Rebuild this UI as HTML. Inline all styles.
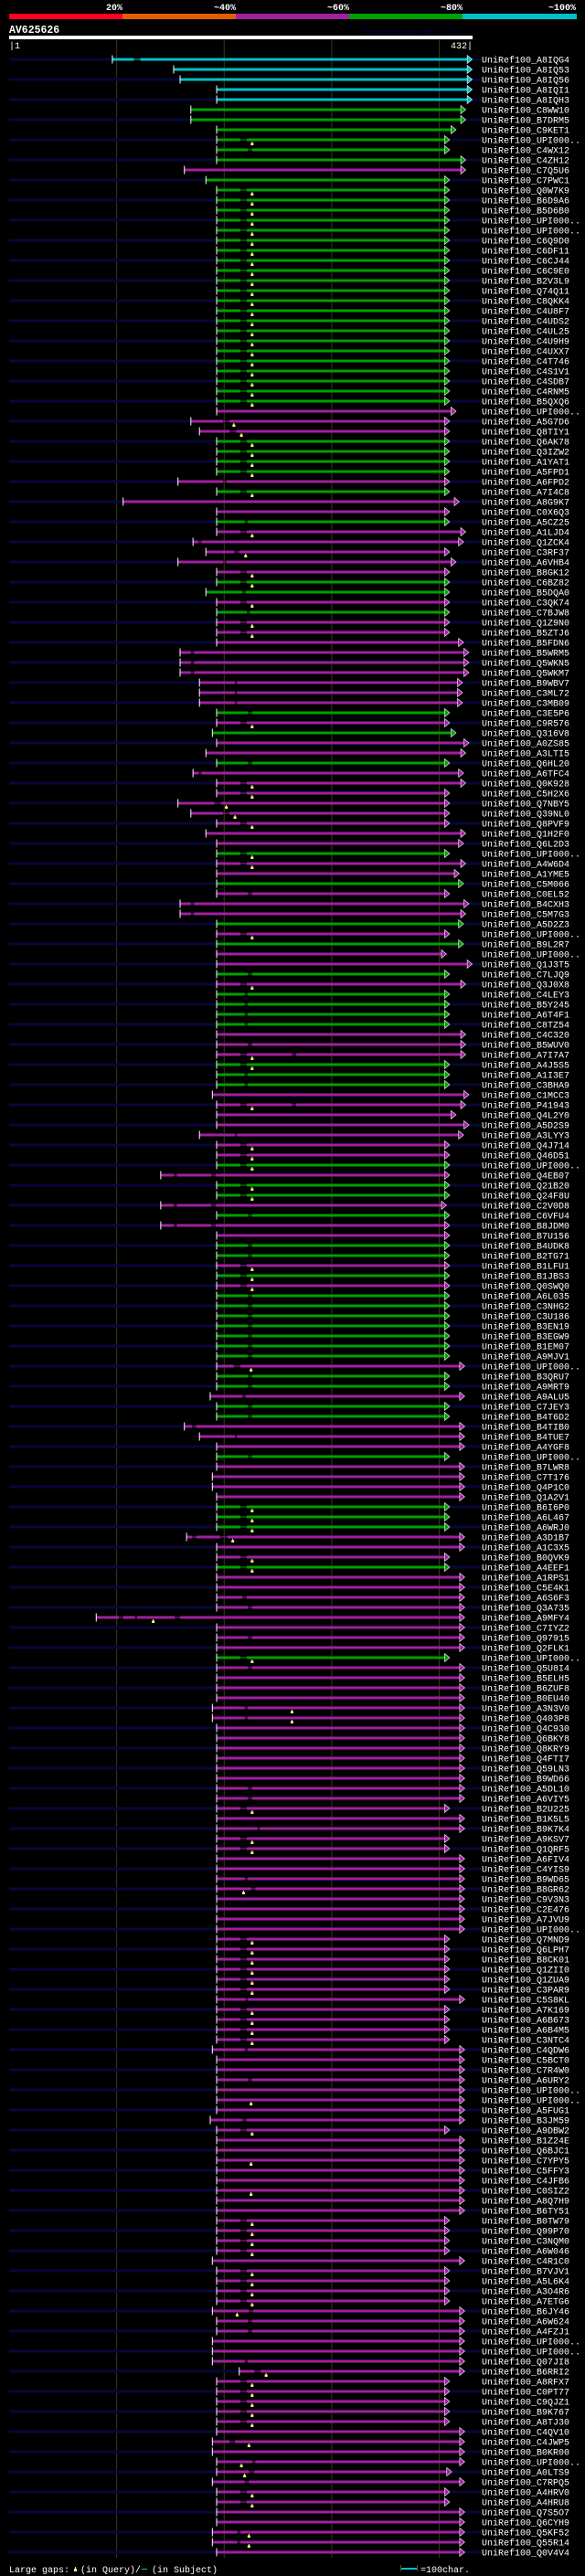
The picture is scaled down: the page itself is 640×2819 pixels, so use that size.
<!DOCTYPE html>
<html><head><meta charset="utf-8"><title>AlignView AV625626</title>
<style>
html,body{margin:0;padding:0;background:#000;}
svg{display:block;}
text{font-family:"Liberation Mono","DejaVu Sans Mono",monospace;}
</style></head>
<body>
<svg id="chart" xmlns="http://www.w3.org/2000/svg" width="640" height="2819" viewBox="0 0 640 2819">
<rect x="0" y="0" width="640" height="2819" fill="#000"/>
<g>
<rect x="10" y="15" width="124" height="6" fill="#ff0020"/>
<rect x="134" y="15" width="124" height="6" fill="#e06000"/>
<rect x="258" y="15" width="124" height="6" fill="#a020a0"/>
<rect x="382" y="15" width="124" height="6" fill="#00a000"/>
<rect x="506" y="15" width="125" height="6" fill="#00c0c8"/>
<text x="134" y="11" fill="#fff" font-size="10" font-weight="bold" text-anchor="end">20%</text>
<text x="258" y="11" fill="#fff" font-size="10" font-weight="bold" text-anchor="end">~40%</text>
<text x="382" y="11" fill="#fff" font-size="10" font-weight="bold" text-anchor="end">~60%</text>
<text x="506" y="11" fill="#fff" font-size="10" font-weight="bold" text-anchor="end">~80%</text>
<text x="630" y="11" fill="#fff" font-size="10" font-weight="bold" text-anchor="end">~100%</text>
</g>
<text x="10" y="36" fill="#fff" font-size="11.5" font-weight="bold">AV625626</text>
<text x="517" y="37" fill="#000048" font-size="9" text-anchor="end">AlignView.pm Beta rel.7</text>
<rect x="10" y="39" width="507" height="4" fill="#fff"/>
<text x="10" y="53" fill="#fff" font-size="10">|1</text>
<text x="517" y="53" fill="#fff" font-size="10" text-anchor="end">432|</text>
<g id="grid"></g>
<g id="rows"></g>
<g>
<text x="10" y="2815" fill="#fff" font-size="10">Large gaps:</text>
<rect x="82" y="2809" width="1" height="3" fill="#ffff80"/>
<rect x="81" y="2811" width="3" height="3" fill="#ffff80"/>
<text x="88" y="2815" fill="#fff" font-size="10">(in Query)/</text>
<rect x="155" y="2811" width="6" height="1" fill="#00c0c8"/>
<text x="166" y="2815" fill="#fff" font-size="10">(in Subject)</text>
<rect x="438" y="2807" width="1" height="7" fill="#555520"/>
<rect x="439" y="2810" width="17" height="2" fill="#00c0c8"/>
<rect x="456" y="2807" width="1" height="7" fill="#555520"/>
<text x="460" y="2815" fill="#fff" font-size="10">=100char.</text>
</g>
</svg>
<script>
// ---- data ----
const queryLength = 432;
const gridTicks = [100, 200, 300, 400];
const Y = [[216,222]], N = [[223,227]], S = [[220,223]], Y2 = [[216,222],[264,268]];
const rowColors = [
'c','c','c','c','c','g','g','g','g','g','g','m','g','g','g','g','g','g','g','g','g','g','g','g','g','g','g','g','g','g','g','g','g','g','g','m',
'm','m','g','g','g','g','m','g','m','m','g','m','m','m','m','m','g','g','m','g','m','m','m','m','m','m','m','m','m','g','m','g','m','m','g','m',
'm','m','m','m','m','m','m','g','m','m','g','m','m','m','g','m','g','m','m','g','m','g','g','g','g','m','m','m','g','g','g','m','m','m','m','m',
'm','m','g','m','g','g','m','g','m','m','g','g','m','g','m','g','g','g','g','g','g','g','m','g','g','m','g','g','m','m','m','g','m','m','m','m',
'g','g','g','m','m','m','g','m','m','m','m','m','m','m','m','g','m','m','m','m','m','m','m','m','m','m','m','m','m','m','m','m','m','m','m','m',
'm','m','m','m','m','m','m','m','m','m','m','m','m','m','m','m','m','m','m','m','m','m','m','m','m','m','m','m','m','m','m','m','m','m','m','m',
'm','m','m','m','m','m','m','m','m','m','m','m','m','m','m','m','m','m','m','m','m','m','m','m','m','m','m','m','m','m','m','m','m'];
const rowStarts = [
97,154,160,194,194,170,170,194,194,194,194,164,184,194,194,194,194,194,194,194,194,194,194,194,194,194,194,194,194,194,194,194,194,194,194,194,
170,178,194,194,194,194,158,194,107,194,194,194,172,184,158,194,194,184,194,194,194,194,194,160,160,160,178,178,178,194,194,190,194,184,194,172,
194,194,158,170,194,184,194,194,194,194,194,194,160,160,194,194,194,194,194,194,194,194,194,194,194,194,194,194,194,194,194,190,194,194,194,178,
194,194,194,142,194,194,142,194,142,194,194,194,194,194,194,194,194,194,194,194,194,194,194,194,194,188,194,194,164,178,194,194,194,190,190,194,
194,194,194,166,194,194,194,194,194,194,194,82,194,194,194,194,194,194,194,194,190,190,194,194,194,194,194,194,194,194,194,194,194,194,194,194,
194,194,194,194,194,194,194,194,194,194,194,194,194,194,194,194,194,194,190,194,194,194,194,194,194,188,194,194,194,194,194,194,194,194,194,194,
194,194,194,190,194,194,194,194,190,194,194,190,190,190,215,194,194,194,194,194,194,190,190,194,194,190,194,194,194,194,190,190,194];
const rowEnds = [
427,427,427,427,427,421,421,412,406,406,421,421,406,406,406,406,406,406,406,406,406,406,406,406,406,406,406,406,406,406,406,406,406,406,406,412,
406,406,406,406,406,406,406,406,415,406,406,421,419,406,412,406,406,406,406,406,406,406,419,424,424,424,418,418,418,406,406,412,424,421,406,419,
421,406,406,406,406,421,419,406,421,415,419,406,424,421,419,406,419,403,427,406,421,406,406,406,406,421,421,421,406,406,406,424,421,412,424,419,
406,406,406,406,406,406,403,406,406,406,406,406,406,406,406,406,406,406,406,406,406,406,420,406,406,420,406,406,420,420,420,406,420,420,420,420,
406,406,406,420,420,406,406,420,420,420,420,420,420,420,420,406,420,420,420,420,420,420,420,420,420,420,420,420,420,420,406,420,420,406,406,420,
420,420,420,420,420,420,420,406,406,406,406,406,406,420,406,406,406,406,420,420,420,420,420,420,420,420,406,420,420,420,420,420,420,420,420,406,
406,406,406,420,406,406,406,406,420,420,420,420,420,420,420,406,406,406,406,406,420,420,420,420,408,420,406,406,420,420,420,420,420];
const rowGaps = [
[[117,123]],[],[],[],[],[],[],[],Y,N,[],[],[],Y,Y,Y,Y,Y,Y,Y,Y,Y,Y,Y,Y,Y,Y,Y,Y,Y,Y,Y,Y,Y,Y,[],
[[200,206]],[[206,212]],Y,Y,Y,Y,[[200,203]],Y,[],[],S,Y,[[177,180]],[[210,215]],[[200,203]],Y,Y,[[218,221]],Y,[[222,225]],Y,Y,[],[[170,173]],[[170,173]],[[170,173]],[[211,213]],[[211,213]],[[211,213]],N,Y,[],[],[],N,[[177,180]],
Y,Y,[[192,198]],[[200,206]],Y,[],[],Y,Y,[],[],N,[[170,173]],[[170,173]],[],Y,[],[],[],N,Y,S,S,S,S,[],N,Y2,Y,S,S,[],Y2,[],[],[[211,213]],
Y,Y,Y,[[154,157],[189,193]],Y,Y,[[154,157],[189,193]],N,[[154,157],[189,193]],[],N,N,Y,Y,Y,N,N,N,N,N,N,N,[[210,216]],N,N,[[218,221]],N,N,[[171,175]],[[211,213]],[],N,[],[],[],[],
Y,Y,Y,[[171,175],[197,204]],[],Y,Y,[],[],[[218,222]],N,[[103,107],[118,120],[155,160]],[],N,[],Y,N,[],[],[],[[220,223]],[[220,223]],[],[],[],[],[],[],N,N,Y,[],[[232,234]],Y,Y,[],
[],S,[[226,230]],[],[],[],[],Y,Y,Y,Y,Y,Y,[[221,223]],Y,Y,Y,Y,S,[],[],N,[],[],[],[[218,222]],Y,[],[],[],[],[],[],[],[],Y,
Y,Y,Y,[],Y,Y,Y,Y,[[224,228]],N,N,[],[],S,[[229,235]],Y,Y,Y,Y,Y,[],[[206,211]],[],[[227,230]],[[224,229]],[[220,224]],Y,Y,[],[],[[213,216]],[[213,216]],[]];
const rowMarks = [
[],[],[],[],[],[],[],[],[227],[],[],[],[],[227],[227],[227],[227],[227],[227],[227],[227],[227],[227],[227],[227],[227],[227],[227],[227],[227],[227],[227],[227],[227],[227],[],
[210],[217],[227],[227],[227],[227],[],[227],[],[],[],[227],[],[221],[],[227],[227],[],[227],[],[227],[227],[],[],[],[],[],[],[],[],[227],[],[],[],[],[],
[227],[227],[203],[211],[227],[],[],[227],[227],[],[],[],[],[],[],[227],[],[],[],[],[227],[],[],[],[],[],[],[227],[227],[],[],[],[227],[],[],[],
[227],[227],[227],[],[227],[227],[],[],[],[],[],[],[227],[227],[227],[],[],[],[],[],[],[],[226],[],[],[],[],[],[],[],[],[],[],[],[],[],
[227],[227],[227],[209],[],[227],[227],[],[],[],[],[135],[],[],[],[227],[],[],[],[],[264],[264],[],[],[],[],[],[],[],[],[227],[],[],[227],[227],[],
[],[],[219],[],[],[],[],[227],[227],[227],[227],[227],[227],[],[227],[227],[227],[227],[],[],[],[],[],[226],[],[],[227],[],[],[226],[],[],[226],[],[],[227],
[227],[227],[227],[],[227],[227],[227],[227],[213],[],[],[],[],[],[240],[227],[227],[227],[227],[227],[],[224],[],[217],[220],[],[227],[227],[],[],[224],[224],[]];
const rowLabels = ["A8IQG4","A8IQ53","A8IQ56","A8IQI1","A8IQH3","C8WW10","B7DRM5","C9KET1","UPI000..","C4WX12","C4ZH12","C7Q5U6","C7PWC1","Q0W7K9","B6D9A6","B5D6B0","UPI000..","UPI000..","C6Q9D0","C6DF11","C6CJ44","C6C9E0","B2V3L9","Q74Q11","C8QKK4","C4U8F7","C4UDS2","C4UL25","C4U9H9","C4UXX7","C4T746","C4S1V1","C4SDB7","C4RNM5","B5QXQ6","UPI000..","A5G7D6","Q8TIY1","Q6AK78","Q3IZW2","A1YAT1","A5FPD1","A6FPD2","A7I4C8","A8G9K7","C0X6Q3","A5CZ25","A1LJD4","Q1ZCK4","C3RF37","A6VHB4","B8GK12","C6BZ82","B5DQA0","C3QK74","C7BJW8","Q1Z9N0","B5ZTJ6","B5FDN6","B5WRM5","Q5WKN5","Q5WKM7","B9WBV7","C3ML72","C3MB09","C3E5P6","C9R576","Q316V8","A0ZS85","A3LTI5","Q6HL20","A6TFC4","Q0K928","C5H2X6","Q7NBY5","Q39NL0","Q8PVF9","Q1H2F0","Q6L2D3","UPI000..","A4W6D4","A1YME5","C5M066","C0EL52","B4CXH3","C5M7G3","A5D2Z3","UPI000..","B9L2R7","UPI000..","Q1J3T5","C7LJQ9","Q3J0X8","C4LEY3","B5Y245","A6T4F1","C8TZ54","C4C320","B5WUV0","A7I7A7","A4J5S5","A1I3E7","C3BHA9","C1MCC3","P41943","Q4L2Y0","A5D2S9","A3LYY3","Q4J714","Q46D51","UPI000..","Q4EB07","Q21B20","Q24F8U","C2V0D8","C6VFU4","B8JDM0","B7U156","B4UDK8","B2TG71","B1LFU1","B1JBS3","Q0SWQ0","A6L035","C3NHG2","C3U186","B3EN19","B3EGW9","B1EM07","A9MJV1","UPI000..","B3QRU7","A9MRT9","A9ALU5","C7JEY3","B4T6D2","B4TIB0","B4TUE7","A4YGF8","UPI000..","B7LWR8","C7T176","Q4P1C0","Q1A2V1","B6I6P0","A6L467","A6WRJ0","A3D1B7","A1C3X5","B0QVK9","A4EEF1","A1RPS1","C5E4K1","A6S6F3","Q3A735","A9MFY4","C7IYZ2","Q97915","Q2FLK1","UPI000..","Q5U8I4","B5ELH5","B6ZUF8","B0EU40","A3N3V0","Q403P8","Q4C930","Q6BKY8","Q8KRY9","Q4FTI7","Q59LN3","B9WD66","A5DL10","A6VIY5","B2U225","B1K5L5","B9K7K4","A9KSV7","Q1QRF5","A6FIV4","C4YIS9","B9WD65","B8GR62","C9V3N3","C2E476","A7JVU9","UPI000..","Q7MND9","Q6LPH7","B8CK01","Q1ZII0","Q1ZUA9","C3PAR9","C5S8KL","A7K169","A6B673","A6B4M5","C3NTC4","C4QDW6","C5BCT0","C7R4W0","A6URY2","UPI000..","UPI000..","A5FUG1","B3JM59","A9DBW2","B1Z24E","Q6BJC1","C7YPY5","C5FFY3","C4JFB6","C0SIZ2","A8Q7H9","B6TY51","B0TW79","Q99P70","C3NQM0","A6W046","C4R1C0","B7VJV1","A5L6K4","A3O4R6","A7ETG6","B6JY46","A6W624","A4FZJ1","UPI000..","UPI000..","Q07JI8","B6RRI2","A8RFX7","C0PT77","C9QJZ1","B9K767","A8TJ30","C4QV10","C4JWP5","B0KR00","UPI000..","A0LTS9","C7RPQ5","A4HRV0","A4HRU8","Q7S5O7","Q6CYH9","Q5KF52","Q55R14","Q0V4V4"];

// ---- axis functions ----
const X0 = 10, X1 = 517;
function xScale(p){ return X0 + (p - 1) * (X1 - X0) / (queryLength - 1); }
function yRow(i){ return 65 + 11 * i; }
const COLORS = {c:'#00c0c8', g:'#00a000', m:'#a020a0'};
const NAVY = '#07073a';
const NS = 'http://www.w3.org/2000/svg';
function mk(tag, attrs, parent){ const e = document.createElementNS(NS, tag); for (const k in attrs) e.setAttribute(k, attrs[k]); parent.appendChild(e); return e; }

const nRows = rowColors.length;
let labels = rowLabels.slice();
if (labels.length !== nRows) {
  const tail = labels.slice(-9), head = labels.slice(0, labels.length - 9);
  while (head.length < nRows - 9) head.push('UPI000..');
  labels = head.slice(0, nRows - 9).concat(tail);
}

const grid = document.getElementById('grid');
gridTicks.forEach(function(t){
  const l = mk('rect', {x: xScale(t + 1) - 0.5, y: 44, width: 1, height: yRow(nRows - 1) + 6 - 44, fill: '#3a3a12'}, grid);
  
  
});

const rowsG = document.getElementById('rows');
for (let i = 0; i < nRows; i++) {
  const y = yRow(i);
  const col = COLORS[rowColors[i]];
  const g = mk('g', {}, rowsG);
  
  
  const sx = xScale(rowStarts[i]);
  const ex = xScale(rowEnds[i]);
  if (i % 2 === 0) {
    const nl = mk('rect', {x: X0, y: y - 1.5, width: Math.max(0, sx - X0), height: 3, fill: NAVY}, g);
    
    
    const nr = mk('rect', {x: ex + 5, y: y - 1.5, width: Math.max(0, 527 - ex - 5), height: 3, fill: NAVY}, g);
    
    
  }
  const gaps = rowGaps[i].slice().sort(function(a,b){return a[0]-b[0];});
  let cur = rowStarts[i];
  const segs = [];
  gaps.forEach(function(gp){ segs.push([cur, gp[0]]); cur = gp[1]; });
  segs.push([cur, rowEnds[i]]);
  segs.forEach(function(s){
    const r = mk('rect', {x: xScale(s[0]), y: y - 1.5, width: Math.max(0, xScale(s[1]) - xScale(s[0])), height: 3, fill: col}, g);
    
    
  });
  gaps.forEach(function(gp){
    const r = mk('rect', {x: xScale(gp[0]), y: y - 0.5, width: xScale(gp[1]) - xScale(gp[0]), height: 1, fill: col}, g);
    
    
  });
  rowMarks[i].forEach(function(m){
    const mx = xScale(m);
    const st = mk('rect', {x: mx - 0.5, y: y + 2, width: 1, height: 2, fill: '#ffff80'}, g);
    
    
    const b = mk('rect', {x: mx - 1.5, y: y + 3.5, width: 3, height: 2.5, fill: '#ffff80'}, g);
    
    
  });
  const tick = mk('rect', {x: sx - 0.5, y: y - 4.5, width: 1, height: 9, fill: '#fff'}, g);
  
  
  const ar = mk('polygon', {points: ex + ',' + (y - 4.5) + ' ' + (ex + 5.5) + ',' + y + ' ' + ex + ',' + (y + 4.5), fill: col, stroke: '#fff', 'stroke-width': 0.6}, g);
  
  
  const t = mk('text', {x: 527, y: y + 3.5, fill: '#fff', 'font-size': 10}, g);
  t.textContent = 'UniRef100_' + labels[i];
  
  
}
</script>
</body></html>
